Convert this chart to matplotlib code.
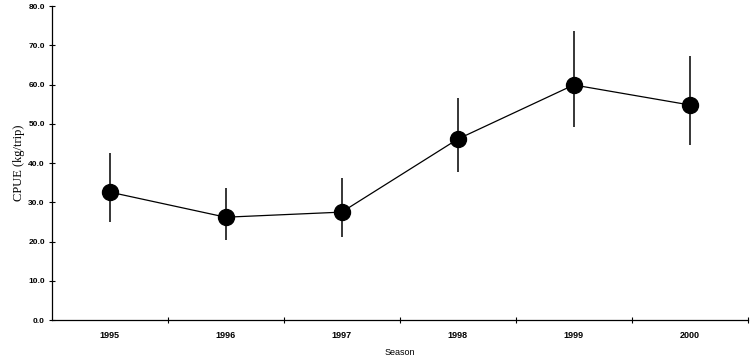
import matplotlib.pyplot as plt
import numpy as np

seasons = ["1995", "1996", "1997", "1998", "1999", "2000"]
cpue = [32.6, 26.2, 27.5, 46.1, 59.9, 54.8]
upper = [42.5, 33.6, 36.1, 56.6, 73.6, 67.3]
lower = [25.0, 20.4, 21.1, 37.7, 49.2, 44.6]

x = np.arange(len(seasons))
cpue = np.array(cpue)
yerr = [cpue - np.array(lower), np.array(upper) - cpue]

fig = plt.figure(figsize=(7.5, 3.56), dpi=100)
ax = fig.add_axes([0.069, 0.101, 0.928, 0.882])

ax.errorbar(x, cpue, yerr=yerr, fmt="o-", color="black", ms=11.5,
            lw=0.9, elinewidth=1.1, capsize=0)

ax.set_xlim(-0.5, len(seasons) - 0.5)
ax.set_ylim(0, 80)
ax.set_yticks(np.arange(0, 81, 10))
ax.set_yticklabels([f"{v:.1f}" for v in np.arange(0, 81, 10)],
                   fontsize=6, fontweight="bold", family="Liberation Sans")
ax.set_xticks(x)
ax.set_xticklabels(seasons, fontsize=6.5, fontweight="bold", family="Liberation Sans")
ax.set_xticks(np.arange(0.5, len(seasons), 1), minor=True)
ax.tick_params(axis="x", which="major", length=0, pad=8)
ax.tick_params(axis="x", which="minor", length=5, direction="inout", width=0.8)
ax.tick_params(axis="y", length=4, direction="inout", width=0.8, pad=3)

for s in ["top", "right"]:
    ax.spines[s].set_visible(False)
for s in ["left", "bottom"]:
    ax.spines[s].set_linewidth(0.9)

ax.set_ylabel("CPUE (kg/trip)", fontsize=9, family="Liberation Serif", labelpad=2)
ax.set_xlabel("Season", fontsize=6.5, family="Liberation Sans", labelpad=6)

fig.savefig("out.png", dpi=100)
